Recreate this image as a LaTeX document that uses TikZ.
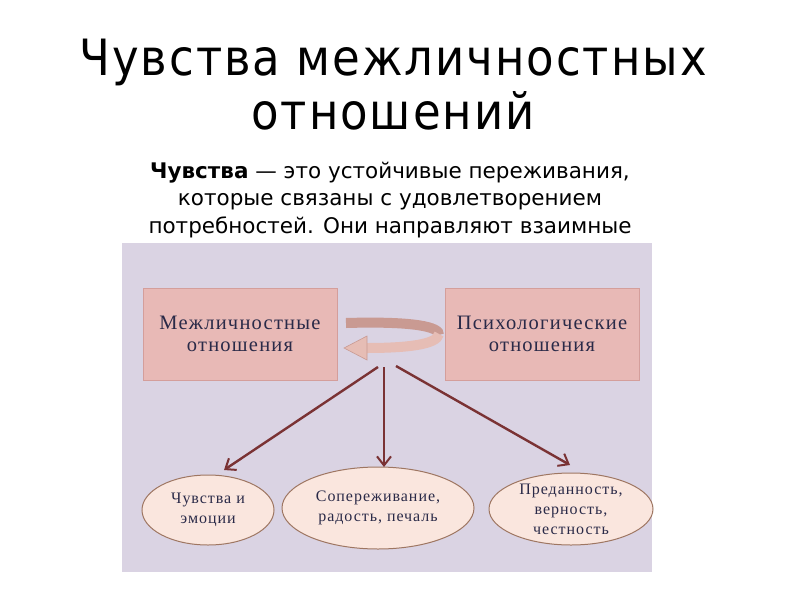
\documentclass[tikz,border=0pt]{standalone}
\usepackage{fontspec}
\setmainfont{Liberation Serif}
\newfontfamily\titlefont[LetterSpace=4]{DejaVu Sans Condensed}
\newfontfamily\bodyfont{DejaVu Sans}
\newfontfamily\boxfont[LetterSpace=6]{Liberation Serif}
\usetikzlibrary{arrows.meta,shapes.geometric}
\definecolor{panel}{HTML}{DAD3E3}
\definecolor{boxfill}{HTML}{E8B9B6}
\definecolor{boxline}{HTML}{D49E9B}
\definecolor{ellfill}{HTML}{FAE6DE}
\definecolor{ellline}{HTML}{9E7662}
\definecolor{txt}{HTML}{2A2A48}
\definecolor{arr}{HTML}{7A3234}
\definecolor{bandback}{HTML}{C99A92}
\definecolor{bandfront}{HTML}{E6BDB5}
\tikzset{
  rel/.style={draw=boxline, line width=1pt, fill=boxfill, minimum width=194pt, minimum height=92pt, inner sep=0pt, align=center, text=txt, font=\boxfont\fontsize{20.5}{22}\selectfont},
  feel/.style={ellipse, draw=ellline, line width=1pt, fill=ellfill, inner sep=0pt, align=center, text=txt, font=\boxfont\fontsize{16}{20}\selectfont},
  link/.style={draw=arr, line width=2.4pt, -{Straight Barb[length=9pt,width=14pt,line width=2pt]}}
}
\begin{document}
\begin{tikzpicture}[x=1pt,y=-1pt]
\useasboundingbox (0,0) rectangle (800,600);
\fill[white] (0,0) rectangle (800,600);
\node[font=\titlefont\fontsize{50}{54}\selectfont, align=center] (title) at (393,85) {Чувства межличностных\\отношений};
\node[font=\bodyfont\fontsize{21.5}{27.5}\selectfont, align=center] (def) at (390,200) {\textbf{Чувства} — это устойчивые переживания,\\которые связаны с удовлетворением\\потребностей. Они направляют взаимные};
\fill[panel] (122,243) rectangle (652,572);
\node[rel] (mezh) at (240,334) {Межличностные\\отношения};
\node[rel] (psih) at (542,334) {Психологические\\отношения};
% ribbon arrow
\draw[line width=10pt, bandback] (346,323) .. controls (415,321) and (440,327) .. (439,335);
\draw[line width=10pt, bandfront] (439,334) .. controls (437,345) and (405,348) .. (366,348);
\fill[bandfront, draw=bandback, line width=0.6pt] (367,336) -- (344,348) -- (367,360) -- cycle;
\node[feel, minimum width=132pt, minimum height=70pt] (e1) at (208,510) {Чувства и\\эмоции};
\node[feel, minimum width=192pt, minimum height=82pt] (e2) at (378,508) {Сопереживание,\\радость, печаль};
\node[feel, minimum width=164pt, minimum height=72pt] (e3) at (571,509) {Преданность,\\верность,\\честность};
\coordinate (s1) at (378,367);
\coordinate (s2) at (384,367);
\coordinate (s3) at (396,366);
\coordinate (t1) at (224,470);
\coordinate (t2) at (384,467);
\coordinate (t3) at (570,465);
\draw[link] (s1) -- (t1);
\draw[link] (s2) -- (t2);
\draw[link] (s3) -- (t3);
\end{tikzpicture}
\end{document}
